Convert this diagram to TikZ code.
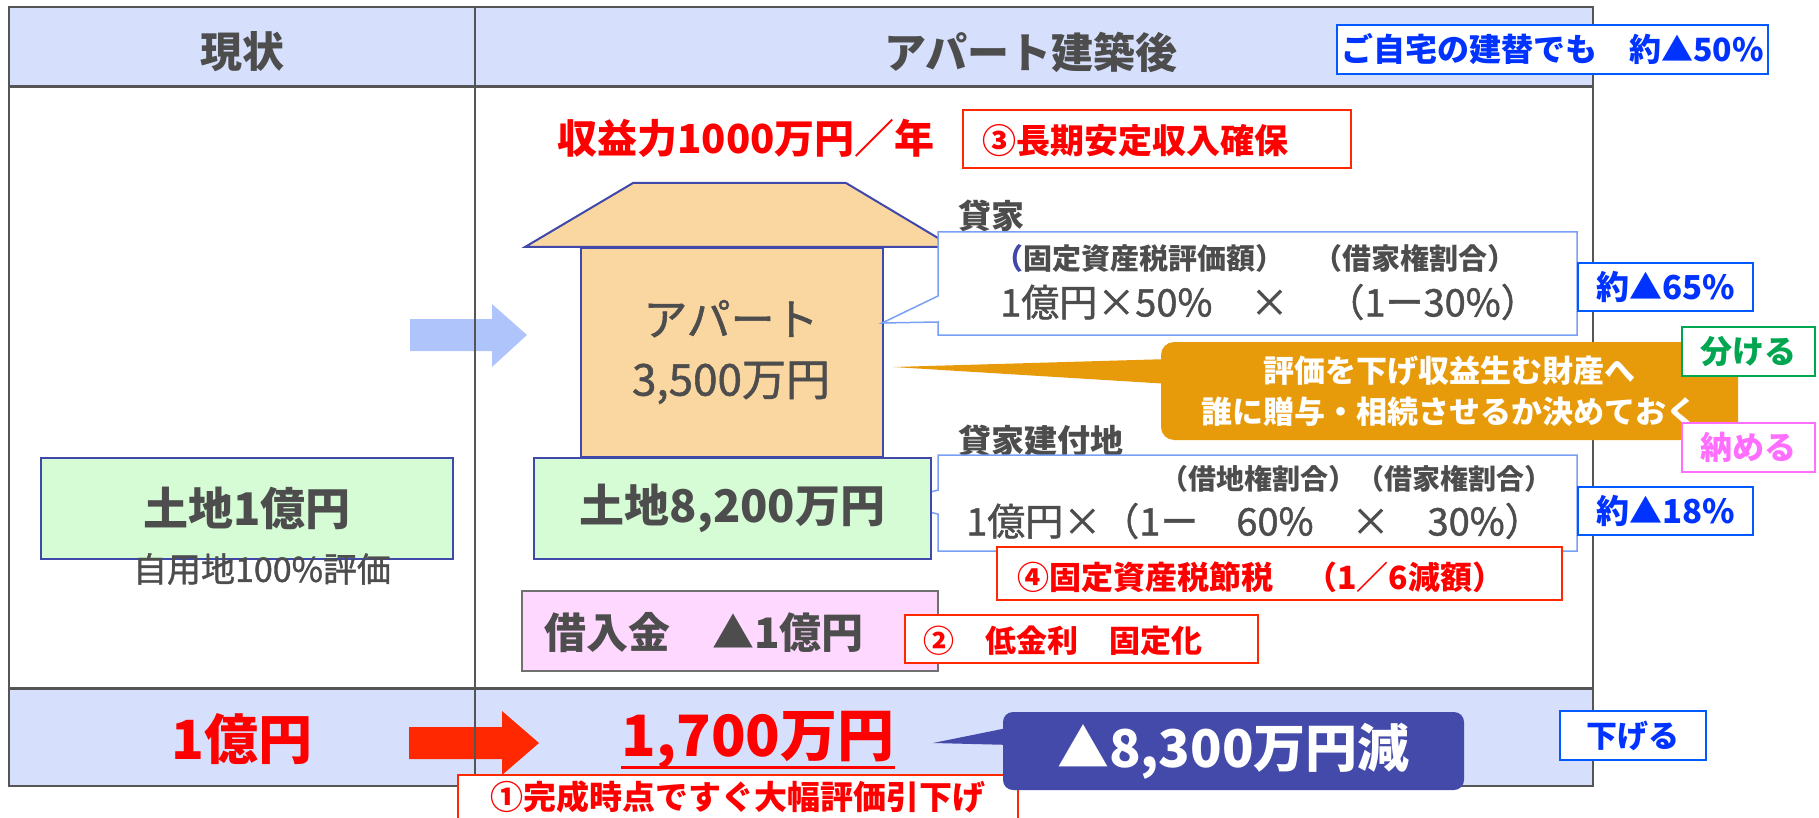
\documentclass[tikz,border=0pt]{standalone}
\usepackage{fontspec}
\setmainfont{Noto Sans CJK JP}
\newfontfamily\medfont{Noto Sans CJK JP}[FakeBold=1.2]
\usetikzlibrary{shapes.callouts,calc}

\definecolor{hdrblue}{RGB}{214,224,252}
\definecolor{tablegray}{RGB}{85,85,85}
\definecolor{txtgray}{RGB}{77,77,77}
\definecolor{peach}{RGB}{250,214,160}
\definecolor{housebd}{RGB}{64,72,170}
\definecolor{landgreen}{RGB}{214,252,214}
\definecolor{loanpink}{RGB}{255,216,255}
\definecolor{loanbd}{RGB}{112,112,112}
\definecolor{notebd}{RGB}{120,160,245}
\definecolor{arrowblue}{RGB}{175,196,250}
\definecolor{bluetxt}{RGB}{0,51,255}
\definecolor{bluebd}{RGB}{0,90,255}
\definecolor{redtxt}{RGB}{255,0,0}
\definecolor{redbd}{RGB}{255,40,0}
\definecolor{orangefill}{RGB}{232,155,10}
\definecolor{grntxt}{RGB}{0,166,80}
\definecolor{magtxt}{RGB}{255,110,255}
\definecolor{navyfill}{RGB}{68,74,170}

\newcommand\fsz[1]{\fontsize{#1}{#1}\selectfont}

\tikzset{
  sized/.style 2 args={minimum width=#1, minimum height=#2},
  txt/.style={inner sep=0pt, text=txtgray},
  redlabel/.style={inner sep=0pt, text=redtxt, font=\bfseries\fsz{32}},
  bluetag/.style={draw=bluebd, line width=2pt, fill=white, text=bluetxt, font=\bfseries\fsz{33}, inner sep=0pt},
  redtag/.style={draw=redbd, line width=2pt, fill=white, inner sep=0pt},
  landbox/.style={draw=housebd, line width=2pt, fill=landgreen, inner sep=0pt, text=txtgray, font=\bfseries\fsz{45}},
  notebox/.style={rectangle callout, draw=notebd, line width=1.5pt, fill=white, inner sep=0pt},
}

\begin{document}
\begin{tikzpicture}[x=1pt,y=-1pt]
\useasboundingbox (0,0) rectangle (1819,818);
\coordinate (tl) at (9,7);
\coordinate (br) at (1593,786);

% header and total rows
\fill[hdrblue] (tl) rectangle (1593,87);
\fill[hdrblue] (9,688) rectangle (br);

% arrows between the columns
\fill[arrowblue] (410,319) -- (492,319) -- (492,304) -- (527,335) -- (492,367) -- (492,351) -- (410,351) -- cycle;
\fill[redbd] (409,727) -- (502,727) -- (502,711) -- (539,743) -- (502,775) -- (502,759) -- (409,759) -- cycle;

% table lines
\path[draw, tablegray, line width=1.5pt] (475,7) -- (475,786);
\path[draw, tablegray, line width=3pt] (9,87) -- (1593,87);
\path[draw, tablegray, line width=3pt] (9,688) -- (1593,688);
\path[draw, tablegray, line width=2.5pt] (tl) rectangle (br);

\node[txt, font=\bfseries\fsz{42}] (now) at (242,52) {現状};
\node[txt, font=\bfseries\fsz{42}] (after) at (1031,52) {アパート建築後};
\node[bluetag, sized={431pt}{49pt}, font=\bfseries\fsz{32}] (rebuild) at (1552.5,49.5) {ご自宅の建替でも　約▲50\%};

% income
\node[redlabel, font=\bfseries\fsz{40}] (income) at (746,138) {収益力1000万円／年};
\node[redtag, sized={388pt}{58pt}] (tag3) at (1157,139) {};
\node[redlabel, font=\bfseries\fsz{34}, anchor=west] (tag3t) at (982,141) {③長期安定収入確保};

% the apartment
\coordinate (r1) at (525,247);
\coordinate (r2) at (633,183);
\coordinate (r3) at (846,183);
\coordinate (r4) at (953,247);
\path[draw=housebd, fill=peach, line width=2pt] (r1) -- (r2) -- (r3) -- (r4) -- cycle;
\node[draw=housebd, fill=peach, line width=2pt, sized={302pt}{209pt}] (apart) at (732,352.5) {};
\node[txt, font=\medfont\fontsize{44}{60}\selectfont, align=center] (apartt) at (731,352) {アパート\\3,500万円};

% rented house
\coordinate (p1) at (882,323);
\node[txt, font=\bfseries\fsz{33}, anchor=west] (kashiya) at (958,216) {貸家};
\node[notebox, sized={639pt}{103pt}, callout absolute pointer={(p1)}, callout pointer width=26pt] (housenote) at (1257.5,283.5) {};
\node[txt, font=\bfseries\fsz{29}, anchor=west] (house1) at (994,258) {\textcolor{housebd}{（}固定資産税評価額）　（借家権割合）};
\node[txt, font=\medfont\fsz{38}, anchor=west] (house2) at (1000,302) {1億円×50\%　×　（1ー30\%）};
\node[bluetag, sized={175pt}{48pt}] (cut65) at (1665.5,287) {約▲65\%};

% inheritance note
\coordinate (p2) at (893,367);
\fill[orangefill] (1170,359) -- (p2) -- (1170,384) -- cycle;
\node[fill=orangefill, rounded corners=13pt, sized={577pt}{98pt}, inner sep=0pt, text=white, font=\bfseries\fontsize{31}{41}\selectfont, align=center] (plan) at (1449.5,391) {評価を下げ収益生む財産へ\\誰に贈与・相続させるか決めておく};
\node[draw=grntxt, line width=2pt, fill=white, text=grntxt, font=\bfseries\fsz{32}, sized={133pt}{49pt}] (split) at (1748.5,351.5) {分ける};
\node[draw=magtxt, line width=2pt, fill=white, text=magtxt, font=\bfseries\fsz{32}, sized={133pt}{49pt}] (pay) at (1748.5,447.5) {納める};

% land under the rented house
\coordinate (p3) at (890,502);
\node[txt, font=\bfseries\fsz{33}, anchor=west] (kashichi) at (958,441) {貸家建付地};
\node[notebox, sized={639pt}{96pt}, callout absolute pointer={(p3)}, callout pointer width=24pt] (landnote) at (1257.5,503) {};
\node[txt, font=\bfseries\fsz{28}, anchor=east] (land1t) at (1553,479) {（借地権割合）（借家権割合）};
\node[txt, font=\medfont\fsz{38}, anchor=west] (land2t) at (966,521) {1億円×（1ー　60\%　×　30\%）};
\node[bluetag, sized={175pt}{48pt}] (cut18) at (1665.5,511) {約▲18\%};
\node[redtag, sized={565pt}{53pt}] (tag4) at (1279.5,573.5) {};
\node[redlabel, anchor=west] (tag4t) at (1017,577) {④固定資産税節税　（1／6減額）};

% land boxes
\node[landbox, sized={412pt}{101pt}] (landnow) at (247,508.5) {土地1億円};
\node[txt, font=\medfont\fsz{34}] (selfuse) at (262,569) {自用地100\%評価};
\node[landbox, sized={397pt}{101pt}] (landafter) at (732.5,508.5) {土地8,200万円};

% loan
\node[draw=loanbd, line width=2pt, fill=loanpink, sized={416pt}{80pt}] (loan) at (730,631) {};
\node[txt, font=\bfseries\fsz{42}, anchor=west] (loant) at (544,633) {借入金　▲1億円};
\node[redtag, sized={353pt}{48pt}] (tag2) at (1081.5,639) {};
\node[redlabel, font=\bfseries\fsz{31}, anchor=west] (tag2t) at (923,641) {②　低金利　固定化};

% totals
\node[redlabel, font=\bfseries\fsz{54}] (totalnow) at (242,739) {1億円};
\node[redlabel, font=\bfseries\fsz{57}] (totalafter) at (758,740) {1,700万円};
\path[draw, redtxt, line width=3pt] (totalafter.west |- 0,767) -- (totalafter.east |- 0,767);
\node[redtag, sized={560pt}{60pt}] (tag1) at (738,805) {};
\node[redlabel, font=\bfseries\fsz{33}] (tag1t) at (738,797) {①完成時点ですぐ大幅評価引下げ};

\coordinate (p4) at (933,743);
\fill[navyfill] (1012,727) -- (p4) -- (1012,745) -- cycle;
\node[fill=navyfill, rounded corners=10pt, sized={461pt}{78pt}, inner sep=0pt, text=white, font=\bfseries\fsz{52}] (saving) at (1233.5,751) {▲8,300万円減};
\node[bluetag, sized={146pt}{49pt}, font=\bfseries\fsz{31}] (lower) at (1633,735.5) {下げる};
\end{tikzpicture}
\end{document}
